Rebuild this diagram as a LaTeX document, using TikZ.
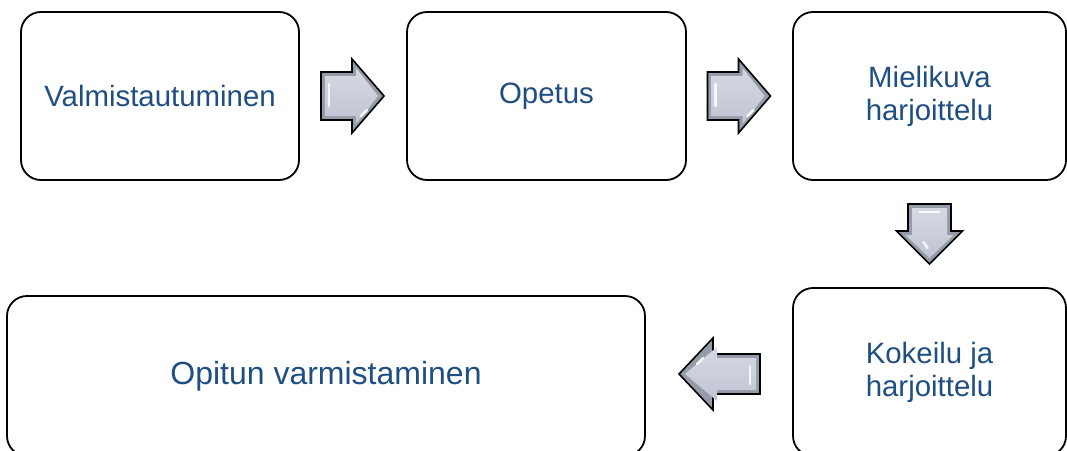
\documentclass[tikz,border=0pt]{standalone}
\usepackage{fontspec}
\setmainfont{Liberation Sans}
\usetikzlibrary{calc}
\definecolor{txtblue}{RGB}{31,78,130}
\definecolor{arrlight}{RGB}{214,217,228}
\definecolor{arrmid}{RGB}{192,196,210}
\definecolor{arrdark}{RGB}{150,155,170}
\tikzset{
  stepbox/.style={draw=black, line width=1.8pt, rounded corners=20pt, inner sep=0pt,
    align=center, text=txtblue, font=\fontsize{29.4}{33}\selectfont},
  arrowfill/.style={draw=black, line width=1.6pt, line join=miter, fill=arrdark},
  arrowinner/.style={top color=arrlight, bottom color=arrmid},
  glint/.style={draw=white, line width=2.5pt, line cap=round, opacity=0.85},
}
\begin{document}
\begin{tikzpicture}[x=1pt,y=-1pt]
\useasboundingbox (0,0) rectangle (1067,450);
\node[stepbox, minimum width=278pt, minimum height=168pt] (b1) at (160,96) {Valmistautuminen};
\node[stepbox, minimum width=279pt, minimum height=168pt] (b2) at (546.5,96) {Opetus};
\node[stepbox, minimum width=273pt, minimum height=168pt] (b3) at (929.5,96) {Mielikuva\\harjoittelu};
\node[stepbox, minimum width=273pt, minimum height=168pt] (b4) at (929.5,372) {Kokeilu ja\\harjoittelu};
\node[stepbox, minimum width=638pt, minimum height=160pt, font=\fontsize{32}{36}\selectfont] (b5) at (326,376) {Opitun varmistaminen};
\coordinate (a1) at ($(b1.east)!0.5!(b2.west)$);
\coordinate (a2) at ($(b2.east)!0.5!(b3.west)$);
\coordinate (a3) at ($(b3.south)!0.5!(b4.north)$);
\coordinate (a4) at ($(b5.east)!0.5!(b4.west)$);
% right arrows
\foreach \c in {a1,a2}{
  \begin{scope}[shift={(\c)}]
    \path[arrowfill] (-32,-24) -- (-1,-24) -- (-1,-37) -- (31,0) -- (-1,37) -- (-1,24) -- (-32,24) -- cycle;
    \path[arrowinner] (-28,-20) -- (3,-20) -- (3,-28) -- (25,0) -- (3,28) -- (3,20) -- (-28,20) -- cycle;
    \draw[glint] (-24,-12) -- (-24,10);
    \draw[glint] (8,20) -- (14,14);
  \end{scope}
}
% down arrow
\begin{scope}[shift={(a3)}]
  \path[arrowfill] (-21.5,-30) -- (21.5,-30) -- (21.5,-3) -- (33,-3) -- (0,30) -- (-33,-3) -- (-21.5,-3) -- cycle;
  \path[arrowinner] (-17.5,-26) -- (17.5,-26) -- (17.5,1) -- (24,1) -- (0,24) -- (-24,1) -- (-17.5,1) -- cycle;
  \draw[glint] (-10,-22) -- (10,-22);
  \draw[glint] (-6,8) -- (-2,14);
\end{scope}
% left arrow
\begin{scope}[shift={(a4)}]
  \path[arrowfill] (41,-20) -- (-6,-20) -- (-6,-36) -- (-40,0) -- (-6,36) -- (-6,20) -- (41,20) -- cycle;
  \path[arrowinner] (37,-16) -- (-2,-16) -- (-2,-27) -- (-34,0) -- (-2,27) -- (-2,16) -- (37,16) -- cycle;
  \draw[glint] (31,-8) -- (31,10);
  \draw[glint] (-22,-10) -- (-16,-16);
\end{scope}
\end{tikzpicture}
\end{document}
